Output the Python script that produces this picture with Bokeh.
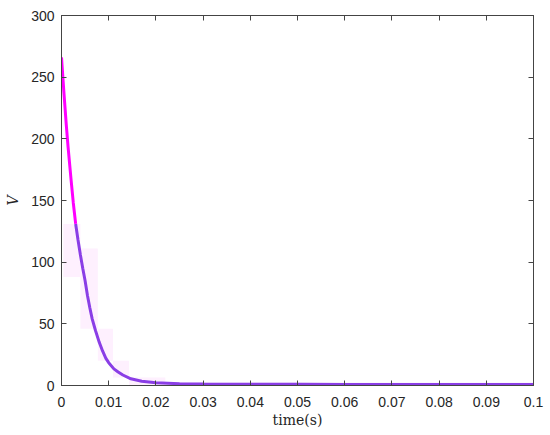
from bokeh.plotting import figure
from bokeh.models import FixedTicker, LinearAxis, Range1d
from bokeh.embed import file_html
from bokeh.resources import INLINE

# curve
t_head = [0.0, 0.0005, 0.001, 0.0014, 0.002, 0.0025, 0.003]
v_head = [266, 238, 212, 193, 168, 148, 131]
t_tail = [0.003, 0.0035, 0.004, 0.0045, 0.005, 0.0055, 0.006, 0.0065, 0.0072, 0.008,
          0.0087, 0.0094, 0.010, 0.0111, 0.012, 0.013, 0.0147, 0.017, 0.020, 0.025,
          0.03, 0.04, 0.05, 0.06, 0.07, 0.08, 0.09, 0.1]
v_tail = [131, 118, 106, 95, 85, 73, 63, 54, 44.6, 35,
          28, 22, 18.5, 13.5, 11, 8.5, 5.4, 3.5, 2.2, 1.5,
          1.2, 1.0, 1.0, 0.9, 0.9, 0.8, 0.8, 0.8]

# faint pink shading blocks
shade_left = [0.0004, 0.004, 0.0077, 0.0109, 0.0143, 0.022]
shade_right = [0.004, 0.0077, 0.0109, 0.0143, 0.022, 0.1]
shade_top = [131, 111, 46, 20, 6.5, 2.5]
shade_bottom = [88, 46, 20, 6.5, 0, 0]

x_ticks = [0, 0.01, 0.02, 0.03, 0.04, 0.05, 0.06, 0.07, 0.08, 0.09, 0.1]
x_labels = ["0", "0.01", "0.02", "0.03", "0.04", "0.05", "0.06", "0.07", "0.08", "0.09", "0.1"]
y_ticks = [0, 50, 100, 150, 200, 250, 300]

p = figure(width=544, height=432, output_backend="svg", toolbar_location=None,
           x_range=Range1d(0, 0.1), y_range=Range1d(0, 300),
           min_border_left=61, min_border_right=11, min_border_top=15, min_border_bottom=47)
p.grid.visible = False
p.outline_line_color = "#444444"
p.outline_line_width = 1

p.quad(left=shade_left, right=shade_right, top=shade_top, bottom=shade_bottom,
       fill_color="#fef0fe", line_color=None)
p.line(t_tail, v_tail, line_color="#8a3ee6", line_width=3)
p.line(t_head, v_head, line_color="#ff00ff", line_width=3)

label_color = "#262626"
for ax in (p.xaxis[0], p.yaxis[0]):
    ax.axis_line_color = "#444444"
    ax.major_tick_line_color = "#444444"
    ax.major_tick_in = 5
    ax.major_tick_out = 0
    ax.minor_tick_line_color = None
    ax.major_label_text_font = "Liberation Sans"
    ax.major_label_text_font_size = "14px"
    ax.major_label_text_color = label_color
    ax.axis_label_text_font = "DejaVu Serif"
    ax.axis_label_text_font_style = "normal"
    ax.axis_label_text_font_size = "14px"
    ax.axis_label_text_color = label_color

p.xaxis[0].ticker = FixedTicker(ticks=x_ticks)
p.xaxis[0].major_label_overrides = {tk: lb for tk, lb in zip(x_ticks, x_labels)}
p.xaxis[0].axis_label = "time(s)"
p.xaxis[0].axis_label_standoff = 2
p.xaxis[0].major_label_standoff = 11
p.yaxis[0].ticker = FixedTicker(ticks=y_ticks)
p.yaxis[0].axis_label = "V"
p.yaxis[0].axis_label_text_font_style = "italic"
p.yaxis[0].axis_label_standoff = 7
p.yaxis[0].major_label_standoff = 7

top_ax = LinearAxis(ticker=FixedTicker(ticks=x_ticks), major_label_text_font_size="0px",
                    major_tick_in=5, major_tick_out=0, minor_tick_line_color=None,
                    axis_line_color="#444444", major_tick_line_color="#444444")
right_ax = LinearAxis(ticker=FixedTicker(ticks=y_ticks), major_label_text_font_size="0px",
                      major_tick_in=5, major_tick_out=0, minor_tick_line_color=None,
                      axis_line_color="#444444", major_tick_line_color="#444444")
p.add_layout(top_ax, "above")
p.add_layout(right_ax, "right")

open("out.html", "w").write(file_html(p, INLINE))
